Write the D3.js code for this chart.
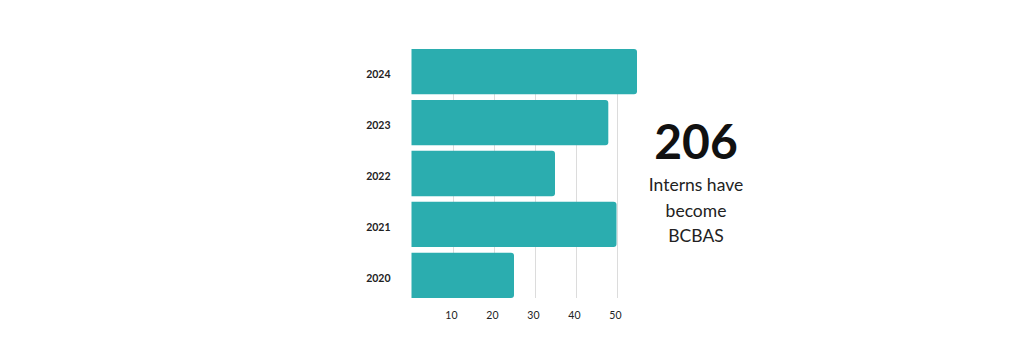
<!DOCTYPE html>
<html>
<head>
<meta charset="utf-8">
<script src="https://cdn.jsdelivr.net/npm/d3@7"></script>
<style>
  html, body { margin: 0; padding: 0; background: #fff; }
  svg { display: block; font-family: Lato, "Open Sans", sans-serif; }
</style>
</head>
<body>
<svg id="chart" width="1024" height="359"></svg>
<script>
const years = ["2024", "2023", "2022", "2021", "2020"];
const interns = [55, 48, 35, 50, 25];
const tickValues = [10, 20, 30, 40, 50];
const totalLabel = "206";
const captionLines = ["Interns have", "become", "BCBAS"];

const svg = d3.select("#chart");
const barColor = "#2badaf";

const x = d3.scaleLinear().domain([0, 60]).range([411.5, 657.5]);
const y = d3.scaleBand().domain(years).range([49, 298]).paddingInner(0.11).paddingOuter(0);

// gridlines
svg.append("g").selectAll("line").data(tickValues).join("line")
  .attr("x1", d => Math.round(x(d)) + 0.5).attr("x2", d => Math.round(x(d)) + 0.5)
  .attr("y1", y.range()[0]).attr("y2", y.range()[1])
  .attr("stroke", "#dcdcdc").attr("stroke-width", 1);

// bars with rounded right corners
const r = 3;
function barPath(d, i) {
  const x0 = x(0), x1 = x(interns[i]), y0 = y(d), h = y.bandwidth();
  return `M${x0},${y0} H${x1 - r} Q${x1},${y0} ${x1},${y0 + r} V${y0 + h - r} Q${x1},${y0 + h} ${x1 - r},${y0 + h} H${x0} Z`;
}
svg.append("g").selectAll("path").data(years).join("path")
  .attr("d", barPath)
  .attr("fill", barColor);

// y axis (years)
const yAxis = svg.append("g").attr("transform", `translate(${x(0)},0)`)
  .call(d3.axisLeft(y).tickSize(0).tickPadding(21));
yAxis.select(".domain").remove();
yAxis.selectAll("text").attr("font-family", "Lato, sans-serif").attr("font-size", 10.5)
  .attr("font-weight", "bold").attr("fill", "#222").attr("dy", "0.65em");

// x axis
const xAxis = svg.append("g").attr("transform", `translate(0,${y.range()[1]})`)
  .call(d3.axisBottom(x).tickValues(tickValues).tickSize(0).tickPadding(14));
xAxis.select(".domain").remove();
xAxis.selectAll("text").attr("font-family", "Lato, sans-serif").attr("font-size", 10.5)
  .attr("fill", "#222").attr("dx", "-0.15em");

// big number and caption
const cx = 696;
svg.append("text").attr("x", cx).attr("y", 159).attr("text-anchor", "middle")
  .attr("font-family", "Lato, sans-serif").attr("font-weight", "bold").attr("font-size", 48)
  .attr("fill", "#111").text(totalLabel);

svg.append("g").selectAll("text").data(captionLines).join("text")
  .attr("x", cx).attr("y", (d, i) => 191 + i * 25.5).attr("text-anchor", "middle")
  .attr("font-family", "Lato, sans-serif").attr("font-size", 17.5).attr("fill", "#222")
  .text(d => d);
</script>
</body>
</html>
